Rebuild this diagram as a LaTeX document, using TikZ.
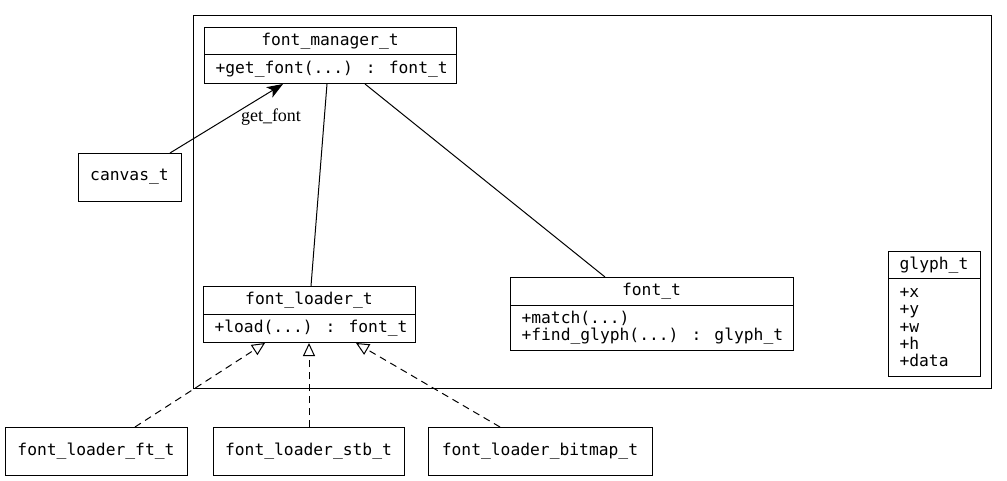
\documentclass[tikz,border=0pt]{standalone}
\usepackage{fontspec}
\setmainfont{Liberation Serif}
\newfontfamily\codefont{DejaVu Sans Mono}
\usetikzlibrary{arrows.meta}
\begin{document}
\begin{tikzpicture}[x=1pt,y=-1pt,
  line width=1pt,
  umlbox/.style={draw, rectangle, inner sep=0pt, anchor=north west},
  code/.style={inner sep=0pt, font=\codefont\fontsize{16.3}{17.3}\selectfont},
  lbl/.style={inner sep=0pt, font=\fontsize{18}{20}\selectfont},
  realize/.style={dash pattern=on 7pt off 5pt, -{Triangle[open,length=13pt,width=12pt]}}
]
\useasboundingbox (0,0) rectangle (1007,481);

% package frame
\draw (193,16) rectangle (991,388);

% font_manager_t
\node[umlbox, minimum width=252pt, minimum height=56pt] (fm) at (204,27) {};
\draw (204,55) -- (456,55);
\node[code] at (330,41) {font\_manager\_t};
\node[code, anchor=west] at (215,69) {+get\_font(...) : font\_t};

% canvas_t
\node[umlbox, minimum width=103pt, minimum height=48pt] (cv) at (78,153) {};
\node[code] at (129.5,177) {canvas\_t};

% font_loader_t
\node[umlbox, minimum width=212pt, minimum height=56pt] (fl) at (203,286) {};
\draw (203,314) -- (415,314);
\node[code] at (309,300) {font\_loader\_t};
\node[code, anchor=west] at (214,328) {+load(...) : font\_t};

% font_t
\node[umlbox, minimum width=283pt, minimum height=73pt] (ft) at (510,277) {};
\draw (510,305) -- (793,305);
\node[code] at (651.5,291) {font\_t};
\node[code, anchor=west, align=left] at (521,327.5) {+match(...)\\+find\_glyph(...) : glyph\_t};

% glyph_t
\node[umlbox, minimum width=92pt, minimum height=125pt] (gl) at (888,251) {};
\draw (888,279) -- (980,279);
\node[code] at (934,265) {glyph\_t};
\node[code, anchor=west, align=left] at (899,327.5) {+x\\+y\\+w\\+h\\+data};

% loader implementations
\node[umlbox, minimum width=182pt, minimum height=48pt] (lft) at (5,427) {};
\node[code] at (96,451) {font\_loader\_ft\_t};
\node[umlbox, minimum width=191pt, minimum height=48pt] (lstb) at (213,427) {};
\node[code] at (308.5,451) {font\_loader\_stb\_t};
\node[umlbox, minimum width=224pt, minimum height=48pt] (lbmp) at (428,427) {};
\node[code] at (540,451) {font\_loader\_bitmap\_t};

% connectors
\path (cv.north west) ++(92,0) coordinate (cvA);
\path (fm.south west) ++(79,0) coordinate (fmA);
\draw[-{Stealth[length=16pt,width=12pt,inset=4pt]}] (cvA) -- (fmA);
\node[lbl] at (271,117) {get\_font};

\path (fm.south west) ++(123,0) coordinate (fmB);
\path (fl.north west) ++(108,0) coordinate (flT);
\draw (fmB) -- (flT);
\path (fm.south west) ++(161,0) coordinate (fmC);
\path (ft.north west) ++(95,0) coordinate (ftT);
\draw (fmC) -- (ftT);

\path (lft.north west) ++(130,0) coordinate (lftT);
\path (fl.south west) ++(62,0) coordinate (flB1);
\draw[realize] (lftT) -- (flB1);
\path (lstb.north west) ++(96,0) coordinate (lstbT);
\path (fl.south west) ++(106,0) coordinate (flB2);
\draw[realize] (lstbT) -- (flB2);
\path (lbmp.north west) ++(72,0) coordinate (lbmpT);
\path (fl.south west) ++(153,0) coordinate (flB3);
\draw[realize] (lbmpT) -- (flB3);
\end{tikzpicture}
\end{document}
